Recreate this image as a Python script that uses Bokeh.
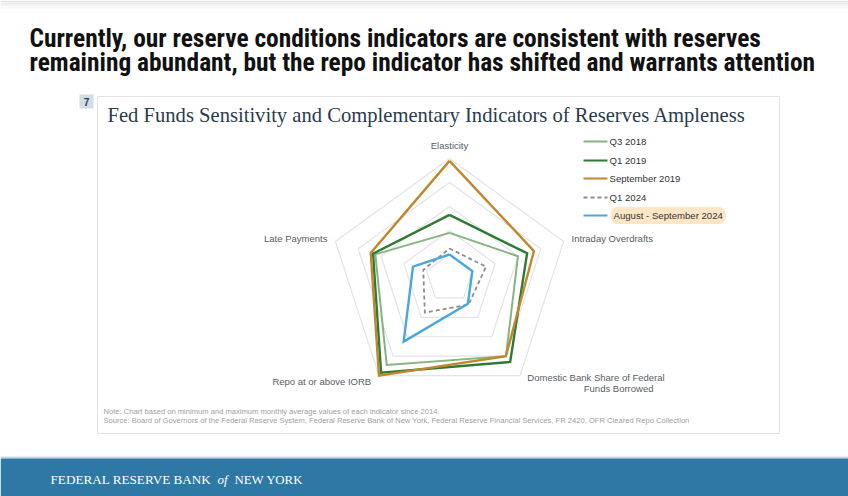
import math
from bokeh.plotting import figure
from bokeh.models import Range1d, Label
from bokeh.embed import file_html
from bokeh.resources import INLINE

# ---------------- data ----------------
categories = ["Elasticity", "Intraday Overdrafts",
              "Domestic Bank Share of Federal Funds Borrowed",
              "Repo at or above IORB", "Late Payments"]
angles_deg = [90, 18, -54, -126, 162]
series_names = ["Q3 2018", "Q1 2019", "September 2019", "Q1 2024", "August - September 2024"]
q3_2018 = [0.38, 0.60, 0.80, 0.89, 0.65]
q1_2019 = [0.53, 0.68, 0.86, 0.97, 0.67]
sep_2019 = [0.98, 0.74, 0.80, 1.00, 0.69]
q1_2024 = [0.25, 0.32, 0.27, 0.35, 0.23]
augsep_2024 = [0.20, 0.20, 0.26, 0.65, 0.32]
grid_levels = [0.2, 0.4, 0.6, 0.8, 1.0]

# ---------------- figure ----------------
W, H = 848, 496
CX, CY, R = 449, 278, 120  # radar centre / radius in page pixels

p = figure(width=W, height=H, output_backend="svg", toolbar_location=None,
           x_range=Range1d(0, W), y_range=Range1d(H, 0),
           x_axis_type=None, y_axis_type=None, min_border=0,
           background_fill_color="white", border_fill_color="white")
p.outline_line_color = None
p.grid.visible = False
p.extra_x_ranges = {"r": Range1d((0 - CX) / R, (W - CX) / R)}
p.extra_y_ranges = {"r": Range1d((CY - H) / R, (CY - 0) / R)}

def polar(vals):
    xs = [v * math.cos(math.radians(a)) for v, a in zip(vals, angles_deg)]
    ys = [v * math.sin(math.radians(a)) for v, a in zip(vals, angles_deg)]
    return xs + xs[:1], ys + ys[:1]

# top shadow
for i, c in enumerate(["#e6e6e6", "#ececec", "#f2f2f2", "#f8f8f8"]):
    p.quad(left=0, right=W, top=2 * i, bottom=2 * i + 2, fill_color=c, line_color=None)

# card and badge
p.quad(left=97, right=779, top=96, bottom=433, fill_color="white",
       line_color="#e2e2e2", line_width=1)
p.quad(left=79, right=93, top=94, bottom=108, fill_color="#d3dbe4", line_color=None)
p.add_layout(Label(x=86, y=101.5, text="7", text_align="center", text_baseline="middle",
                   text_font="Liberation Sans", text_font_style="bold",
                   text_font_size="10px", text_color="#1f3a5c"))

# headline
for i, line in enumerate(["Currently, our reserve conditions indicators are consistent with reserves",
                          "remaining abundant, but the repo indicator has shifted and warrants attention"]):
    p.add_layout(Label(x=29, y=37 + 24.5 * i, text=line, text_baseline="middle",
                       text_font="'Liberation Sans Narrow', 'Roboto Condensed', Roboto",
                       text_font_style="bold", text_font_size="25.4px", text_color="#111111"))

# chart title
p.add_layout(Label(x=107, y=114, text="Fed Funds Sensitivity and Complementary Indicators of Reserves Ampleness",
                   text_baseline="middle", text_font="Liberation Serif",
                   text_font_size="20.6px", text_color="#2a3b4d"))

# grid rings
for lv in grid_levels:
    gx, gy = polar([lv] * 5)
    p.line(gx, gy, x_range_name="r", y_range_name="r", line_color="#e4e4e4", line_width=1.2)

# series
styles = [
    (q3_2018, "#86b482", 2.0, "solid"),
    (q1_2019, "#2f7a34", 2.4, "solid"),
    (sep_2019, "#c0882c", 2.4, "solid"),
    (q1_2024, "#8c8c8c", 1.8, "4 3"),
    (augsep_2024, "#4ba6e0", 2.4, "solid"),
]
for vals, col, lw, dash in styles:
    sx, sy = polar(vals)
    p.line(sx, sy, x_range_name="r", y_range_name="r", line_color=col,
           line_width=lw, line_dash=dash, line_join="miter")

# axis labels
lab_font = "Liberation Sans"
lab_col = "#555d66"
def axis_label(i, r, text, align, baseline, dx=0.0, dy=0.0):
    a = math.radians(angles_deg[i])
    p.add_layout(Label(x=r * math.cos(a) + dx, y=r * math.sin(a) + dy, x_range_name="r", y_range_name="r",
                       text=text, text_align=align, text_baseline=baseline,
                       text_font=lab_font, text_font_size="9.5px", text_color=lab_col))

axis_label(0, 1.11, categories[0], "center", "middle")
axis_label(1, 1.07, categories[1], "left", "middle")
axis_label(4, 1.07, categories[4], "right", "middle")
axis_label(3, 1.06, categories[3], "right", "middle", dx=-0.03)
axis_label(2, 1.07, "Domestic Bank Share of Federal", "left", "middle", dx=0.02, dy=0.04)
axis_label(2, 1.07, "Funds Borrowed", "left", "middle", dx=0.49, dy=-0.05)

# legend
leg_y = [141, 160, 178, 197, 215]
for (vals, col, lw, dash), name, ly in zip(styles, series_names, leg_y):
    p.line([583, 607], [ly, ly], line_color=col, line_width=2, line_dash=dash)
    if name.startswith("August"):
        p.add_layout(Label(x=610, y=ly, text=name, text_baseline="middle", text_font=lab_font,
                           text_font_size="9.6px", text_color="#333333",
                           background_fill_color="#fde6c6", border_radius=7, padding=3))
    else:
        p.add_layout(Label(x=609, y=ly, text=name, text_baseline="middle", text_font=lab_font,
                           text_font_size="9.6px", text_color="#333333"))

# notes
p.add_layout(Label(x=103, y=411, text="Note: Chart based on minimum and maximum monthly average values of each indicator since 2014.",
                   text_baseline="middle", text_font=lab_font, text_font_size="7.6px", text_color="#a0a0a0"))
p.add_layout(Label(x=103, y=420, text="Source: Board of Governors of the Federal Reserve System, Federal Reserve Bank of New York, Federal Reserve Financial Services, FR 2420, OFR Cleared Repo Collection",
                   text_baseline="middle", text_font=lab_font, text_font_size="7.6px", text_color="#a0a0a0"))

# footer bar
p.quad(left=0, right=W, top=456, bottom=458, fill_color="#c9d7e4", line_color=None)
p.quad(left=0, right=W, top=458, bottom=H, fill_color="#2d78a5", line_color=None)
p.add_layout(Label(x=50, y=479, text="FEDERAL RESERVE BANK", text_baseline="middle",
                   text_font="Liberation Serif", text_font_size="13.2px", text_color="white"))
p.add_layout(Label(x=217, y=479, text="of", text_baseline="middle", text_font_style="italic",
                   text_font="Liberation Serif", text_font_size="13px", text_color="white"))
p.add_layout(Label(x=234, y=479, text="NEW YORK", text_baseline="middle",
                   text_font="Liberation Serif", text_font_size="12.8px", text_color="white"))

open("out.html", "w").write(file_html(p, INLINE))
